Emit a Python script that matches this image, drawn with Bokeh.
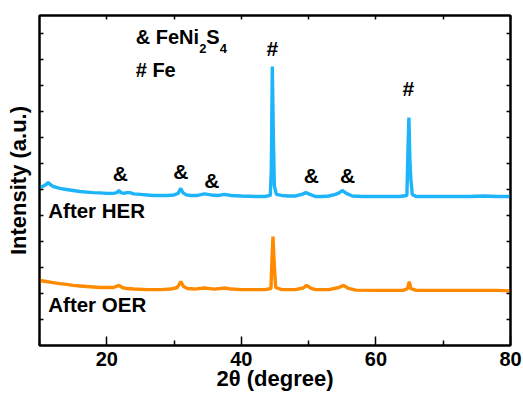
from bokeh.plotting import figure
from bokeh.models import LinearAxis, FixedTicker, Range1d, CustomLabelingPolicy
from bokeh.core.properties import value
from bokeh.embed import file_html
from bokeh.resources import INLINE

# ---- data ----
her_x = [10.0, 10.5, 11.0, 11.3, 11.6, 12.0, 13, 14, 15, 16, 17, 18, 19, 20, 21, 21.5, 21.8, 22.1, 22.5, 23, 23.4,
         24, 25, 26, 27, 28, 29, 30, 30.6, 31.0, 31.3, 31.8, 32.5, 33.5, 34.5, 35.5, 36.5, 37.5, 38.5, 40, 42, 43.5,
         44.3, 44.45, 44.6, 44.75, 44.9, 45.2, 46, 47, 48, 49, 49.6, 50.2, 51, 52, 53, 54, 54.6, 55, 55.6, 56.5,
         58, 60, 62, 63.5, 64.6, 64.8, 64.9, 65.05, 65.2, 65.4, 66, 68, 70, 72, 74, 76, 78, 80]
her_y = [6.08, 6.12, 6.19, 6.27, 6.19, 6.12, 6.04, 6.00, 5.96, 5.92, 5.90, 5.88, 5.87, 5.85, 5.85, 5.88, 5.96, 5.88, 5.85, 5.88, 5.88,
         5.83, 5.81, 5.79, 5.77, 5.77, 5.77, 5.79, 5.85, 6.04, 5.88, 5.79, 5.77, 5.77, 5.83, 5.79, 5.77, 5.81, 5.77, 5.75, 5.73, 5.73,
         5.77, 6.73, 10.73, 8.19, 6.15, 5.81, 5.77, 5.75, 5.75, 5.81, 5.88, 5.81, 5.73, 5.73, 5.75, 5.81, 5.88, 5.96, 5.85, 5.75,
         5.73, 5.73, 5.73, 5.73, 5.77, 7.88, 8.77, 7.12, 6.35, 5.81, 5.73, 5.73, 5.73, 5.73, 5.73, 5.75, 5.73, 5.73]

oer_x = [10, 11, 12, 13, 14, 15, 16, 17, 18, 19, 20, 21, 21.8, 22.3, 23, 24, 26, 28, 29.5, 30.5, 31.0, 31.4, 32, 33,
         34.5, 36, 37.5, 38.5, 40, 42, 43.5, 44.4, 44.55, 44.7, 44.85, 45.1, 46, 48, 49.2, 49.7, 50.3, 51, 53, 54.5,
         55.2, 55.8, 57, 60, 62, 64, 64.7, 64.95, 65.2, 66, 70, 74, 78, 80]
oer_y = [2.50, 2.46, 2.42, 2.38, 2.35, 2.31, 2.29, 2.27, 2.25, 2.23, 2.23, 2.23, 2.31, 2.23, 2.19, 2.17, 2.15, 2.15, 2.17, 2.23, 2.46, 2.27, 2.19, 2.17,
         2.21, 2.17, 2.21, 2.17, 2.15, 2.15, 2.15, 2.19, 3.27, 4.19, 3.27, 2.23, 2.15, 2.15, 2.21, 2.31, 2.21, 2.15, 2.15, 2.23,
         2.31, 2.21, 2.13, 2.12, 2.12, 2.12, 2.19, 2.46, 2.19, 2.12, 2.12, 2.12, 2.12, 2.10]

mark_x = [22.0, 31.0, 35.6, 44.6, 50.4, 55.8, 64.8]
mark_y = [6.62, 6.69, 6.35, 11.42, 6.54, 6.54, 9.88]
mark_t = ["&", "&", "&", "#", "&", "&", "#"]

x_ticks = [20, 40, 60, 80]
x_minor = [10, 30, 50, 70]
y_ticks = [1, 2, 3, 4, 5, 6, 7, 8, 9, 10, 11, 12]

FONT = value("Liberation Sans")
BLUE = "#1EB4FA"
ORANGE = "#FF8A00"

p = figure(width=523, height=397, output_backend="svg", toolbar_location=None,
           x_range=Range1d(10, 80), y_range=Range1d(0, 12.69),
           x_axis_location=None, y_axis_location=None,
           min_border_left=39, min_border_right=13, min_border_top=15, min_border_bottom=52)
p.grid.visible = False
p.outline_line_color = "black"
p.outline_line_width = 2
p.background_fill_color = "white"
p.border_fill_color = "white"

p.line(her_x, her_y, line_color=BLUE, line_width=3.4)
p.line(oer_x, oer_y, line_color=ORANGE, line_width=3.4)

bold = dict(text_font=FONT, text_font_style="bold", text_color="black")
p.text(mark_x, mark_y, text=mark_t, text_font_size="21px",
       text_align="center", text_baseline="middle", **bold)

# legend-like text
p.text([24.3], [11.85], text=["& FeNi"], text_font_size="20px", text_align="left", text_baseline="middle", **bold)
p.text([33.75], [11.42], text=["2"], text_font_size="13px", text_align="left", text_baseline="middle", **bold)
p.text([34.8], [11.85], text=["S"], text_font_size="20px", text_align="left", text_baseline="middle", **bold)
p.text([36.8], [11.42], text=["4"], text_font_size="13px", text_align="left", text_baseline="middle", **bold)
p.text([24.3], [10.58], text=["# Fe"], text_font_size="20px", text_align="left", text_baseline="middle", **bold)

# sample labels
p.text([11.3], [5.65], text=["After HER"], text_font_size="20.5px", text_align="left", text_baseline="top", **bold)
p.text([11.3], [2.0], text=["After OER"], text_font_size="20.5px", text_align="left", text_baseline="top", **bold)


def style(ax):
    ax.axis_line_width = 2
    ax.axis_line_color = "black"
    ax.major_tick_line_width = 1.5
    ax.minor_tick_line_width = 1.5
    ax.major_tick_out = 0
    ax.minor_tick_out = 0


def hide_labels(ax):
    ax.major_label_policy = CustomLabelingPolicy(code="return new Set()")
    ax.major_label_text_font_size = "1px"
    ax.major_label_standoff = 0


bx = LinearAxis(ticker=FixedTicker(ticks=x_ticks, minor_ticks=x_minor), axis_label="2θ (degree)")
style(bx)
bx.major_tick_in = 9
bx.minor_tick_in = 5
bx.major_label_text_font = "Liberation Sans"
bx.major_label_text_font_style = "bold"
bx.major_label_text_font_size = "20px"
bx.major_label_text_color = "black"
bx.major_label_standoff = 6
bx.axis_label_text_font = "Liberation Sans"
bx.axis_label_text_font_style = "bold"
bx.axis_label_text_font_size = "22px"
bx.axis_label_text_color = "black"
bx.axis_label_standoff = -3
p.add_layout(bx, "below")

ly = LinearAxis(ticker=FixedTicker(ticks=y_ticks, minor_ticks=[]), axis_label="Intensity (a.u.)")
style(ly)
ly.major_tick_in = 4
hide_labels(ly)
ly.axis_label_text_font = "Liberation Sans"
ly.axis_label_text_font_style = "bold"
ly.axis_label_text_font_size = "22px"
ly.axis_label_text_color = "black"
ly.axis_label_standoff = 4
p.add_layout(ly, "left")

ry = LinearAxis(ticker=FixedTicker(ticks=y_ticks, minor_ticks=[]))
style(ry)
ry.major_tick_in = 4
hide_labels(ry)
p.add_layout(ry, "right")

tx = LinearAxis(ticker=FixedTicker(ticks=x_ticks + x_minor[1:], minor_ticks=[]))
style(tx)
tx.major_tick_in = 4
hide_labels(tx)
p.add_layout(tx, "above")

open("out.html", "w").write(file_html(p, INLINE))
